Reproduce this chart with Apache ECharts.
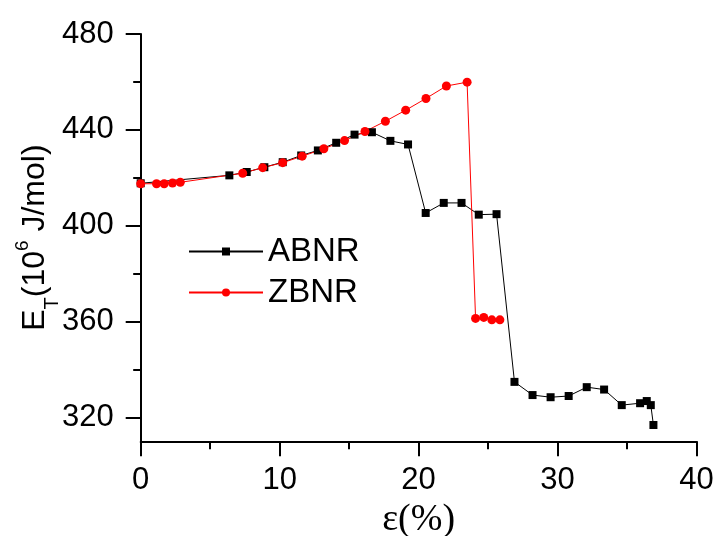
<!DOCTYPE html>
<html>
<head>
<meta charset="utf-8">
<script src="https://cdn.jsdelivr.net/npm/echarts@6/dist/echarts.min.js"></script>
<style>
  html, body { margin: 0; padding: 0; background: #fff; }
  #chart { width: 715px; height: 536px; }
</style>
</head>
<body>
<div id="chart"></div>
<script>
// ABNR 曲线 (应变 %, 能量)
const abnrStrain = [0, 6.38, 7.63, 8.90, 10.22, 11.55, 12.75, 14.07, 15.39, 16.64, 17.97, 19.24,
  20.51, 21.81, 23.09, 24.33, 25.61, 26.9, 28.2, 29.5, 30.8, 32.1, 33.35, 34.62, 35.94, 36.42, 36.71, 36.9]
const abnrEnergy = [417.7, 421.0, 422.4, 424.4, 426.5, 429.3, 431.4, 434.6, 438.0, 439.0, 435.4, 433.9,
  405.3, 409.5, 409.5, 404.6, 404.8, 334.8, 329.3, 328.4, 328.9, 332.6, 331.6, 325.1, 325.9, 326.8, 325.1, 316.8]

// ZBNR 曲线
const zbnrStrain = [0, 1.14, 1.69, 2.29, 2.85, 7.34, 8.78, 10.22, 11.62, 13.18, 14.67, 16.14, 17.61,
  19.07, 20.53, 22.0, 23.49, 24.1, 24.69, 25.27, 25.85]
const zbnrEnergy = [417.5, 417.5, 417.5, 417.8, 418.1, 421.9, 424.2, 426.3, 429.0, 432.1, 435.5, 439.3, 443.6,
  448.2, 453.1, 458.3, 459.9, 361.3, 361.7, 360.7, 360.7]

const yMajorTicks = [320, 360, 400, 440, 480]
const yMinorTicks = [340, 380, 420, 460]

const pair = (xs, ys) => xs.map((x, i) => [x, ys[i]])

const chart = echarts.init(document.getElementById('chart'))
const font = 'Liberation Sans, Arial, sans-serif'

chart.setOption({
  animation: false,
  backgroundColor: '#fff',
  grid: { left: 140.7, right: 18.5, top: 34, bottom: 94.7, containLabel: false, outerBoundsMode: 'none' },
  legend: {
    orient: 'vertical',
    left: 183,
    top: 230,
    padding: 5,
    itemWidth: 74,
    itemHeight: 10,
    itemGap: 8,
    textStyle: { fontFamily: font, fontSize: 33, color: '#000' },
    data: ['ABNR', 'ZBNR']
  },
  xAxis: {
    type: 'value',
    min: 0,
    max: 40,
    interval: 10,
    name: 'ε(%)',
    nameLocation: 'middle',
    nameGap: 60,
    nameMoveOverlap: false,
    nameTextStyle: { fontFamily: 'Liberation Serif, Times New Roman, serif', fontSize: 38, color: '#000' },
    axisLine: { lineStyle: { color: '#000', width: 2 } },
    axisTick: { inside: false, length: 15, lineStyle: { color: '#000', width: 2 } },
    minorTick: { show: true, splitNumber: 2, length: 8, lineStyle: { color: '#000', width: 2 } },
    axisLabel: { margin: 24, fontFamily: font, fontSize: 31, color: '#000' },
    splitLine: { show: false }
  },
  yAxis: [
    {
      type: 'value',
      min: 310,
      max: 480,
      position: 'left',
      name: '{a|E}{b|T}{a|(10}{c|6}{a| J/mol)}',
      nameLocation: 'middle',
      nameGap: 78,
      nameMoveOverlap: false,
      nameTextStyle: {
        fontFamily: font,
        color: '#000',
        rich: {
          a: { fontFamily: font, fontSize: 32, lineHeight: 56, verticalAlign: 'middle', color: '#000' },
          b: { fontFamily: font, fontSize: 20, verticalAlign: 'bottom', color: '#000' },
          c: { fontFamily: font, fontSize: 19, verticalAlign: 'top', padding: [7, 0, 0, 0], color: '#000' }
        }
      },
      axisLine: { lineStyle: { color: '#000', width: 2 } },
      axisTick: { length: 15, customValues: yMajorTicks, lineStyle: { color: '#000', width: 2 } },
      axisLabel: { margin: 27, customValues: yMajorTicks, fontFamily: font, fontSize: 31, color: '#000' },
      splitLine: { show: false }
    },
    {
      type: 'value',
      min: 310,
      max: 480,
      position: 'left',
      axisLine: { show: false },
      axisTick: { length: 7.5, customValues: yMinorTicks, lineStyle: { color: '#000', width: 2 } },
      axisLabel: { show: false },
      splitLine: { show: false }
    }
  ],
  series: [
    {
      name: 'ABNR',
      type: 'line',
      data: pair(abnrStrain, abnrEnergy),
      symbol: 'rect',
      symbolSize: 8,
      lineStyle: { color: '#000', width: 1 },
      itemStyle: { color: '#000' }
    },
    {
      name: 'ZBNR',
      type: 'line',
      data: pair(zbnrStrain, zbnrEnergy),
      symbol: 'circle',
      symbolSize: 9,
      lineStyle: { color: '#ff0000', width: 1 },
      itemStyle: { color: '#ff0000' }
    }
  ]
})
</script>
</body>
</html>
